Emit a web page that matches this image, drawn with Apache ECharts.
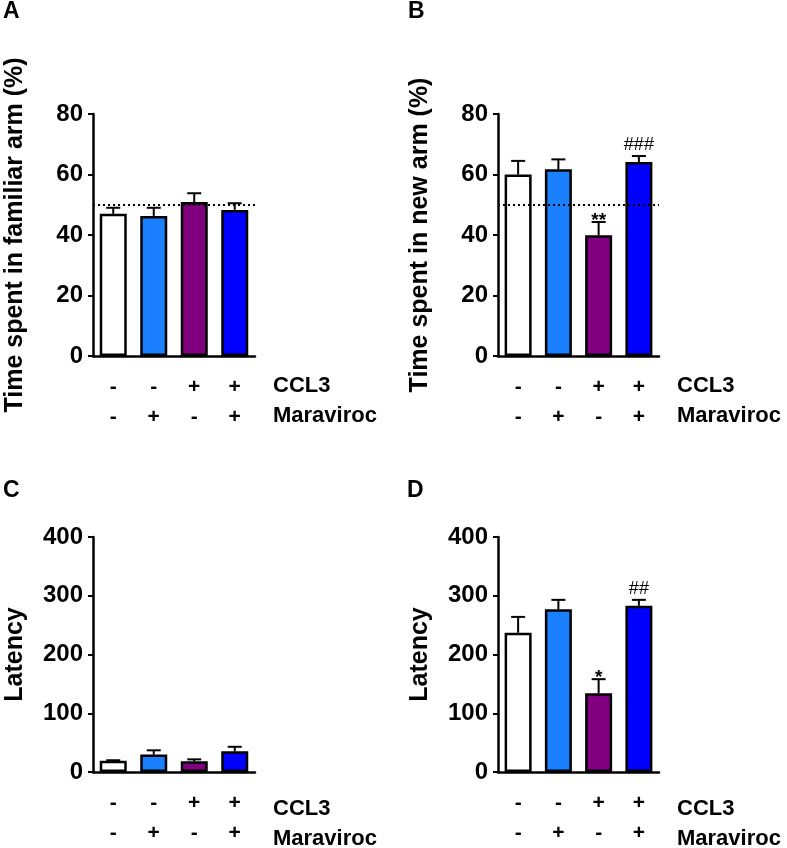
<!DOCTYPE html>
<html>
<head>
<meta charset="utf-8">
<script src="https://cdn.jsdelivr.net/npm/echarts@6/dist/echarts.min.js"></script>
<style>
html,body{margin:0;padding:0;background:#fff;}
#main{width:787px;height:848px;}
</style>
</head>
<body>
<div id="main"></div>
<script>
// ---- data ----
const ccl3 = ['-', '-', '+', '+'];
const maraviroc = ['-', '+', '-', '+'];
const barColors = ['#ffffff', '#1a80ff', '#800080', '#0000ff'];

const familiarMean = [47.0, 46.3, 50.9, 48.3];
const familiarSem  = [2.0, 2.7, 2.9, 2.2];

const newArmMean = [60.0, 61.7, 39.9, 64.1];
const newArmSem  = [4.5, 3.3, 4.4, 2.0];
const newArmMarks = ['', '', '**', '###'];

const latencyCMean = [19, 29.7, 18.2, 35.2];
const latencyCSem  = [1.0, 7.2, 3.3, 7.7];

const latencyDMean = [237, 277, 134, 283];
const latencyDSem  = [27, 16, 24, 10];
const latencyDMarks = ['', '', '*', '##'];

const chanceLevel = 50;

const panelTitles = ['A', 'B', 'C', 'D'];
const yTitles = ['Time spent in familiar arm (%)', 'Time spent in new arm (%)', 'Latency', 'Latency'];
const rowLabels = ['CCL3', 'Maraviroc'];

// ---- layout ----
const FONT = '"Liberation Sans", Arial, sans-serif';
const grids = [
  {left: 93, top: 114, width: 162, height: 242},
  {left: 498, top: 114, width: 161, height: 242},
  {left: 93, top: 537, width: 162, height: 242},
  {left: 498, top: 537, width: 161, height: 242}
];
const yRanges = [[0, 80, 20], [0, 80, 20], [0, 400, 100], [0, 400, 100]];
const panels = [
  {mean: familiarMean, sem: familiarSem, marks: null, chance: true},
  {mean: newArmMean, sem: newArmSem, marks: newArmMarks, chance: true},
  {mean: latencyCMean, sem: latencyCSem, marks: null, chance: false},
  {mean: latencyDMean, sem: latencyDSem, marks: latencyDMarks, chance: false}
];

const cats = ccl3.map((c, i) => i);

const xAxes = grids.map((g, i) => ({
  type: 'category', gridIndex: i, data: cats,
  axisLine: {show: true, lineStyle: {color: '#000', width: 2.5}},
  axisTick: {show: false},
  axisLabel: {
    show: true, margin: 16, interval: 0,
    formatter: (v, idx) => ccl3[idx] + '\n' + maraviroc[idx],
    color: '#000', fontFamily: FONT, fontWeight: 'bold', fontSize: 21, lineHeight: 30
  }
}));

const yAxes = grids.map((g, i) => ({
  type: 'value', gridIndex: i,
  min: yRanges[i][0], max: yRanges[i][1], interval: yRanges[i][2],
  splitLine: {show: false},
  axisLine: {show: true, lineStyle: {color: '#000', width: 2.5}},
  axisTick: {show: true, length: 5, lineStyle: {color: '#000', width: 2}},
  axisLabel: {color: '#000', fontFamily: FONT, fontWeight: 'bold', fontSize: 24, margin: 10},
  name: yTitles[i], nameLocation: 'middle', nameRotate: 90, nameGap: 65,
  nameTextStyle: {color: '#000', fontFamily: FONT, fontWeight: 'bold', fontSize: 25}
}));

const series = [];
panels.forEach((p, i) => {
  const bar = {
    type: 'bar', xAxisIndex: i, yAxisIndex: i, barWidth: 27,
    data: p.mean.map((v, k) => ({value: v, itemStyle: {color: barColors[k]}})),
    itemStyle: {borderColor: '#000', borderWidth: 2.5},
    silent: true, z: 2
  };
  if (p.chance) {
    bar.markLine = {
      symbol: 'none', silent: true, label: {show: false},
      lineStyle: {type: [2, 3], color: '#000', width: 2},
      data: [{yAxis: chanceLevel}]
    };
  }
  series.push(bar);
  series.push({
    type: 'custom', xAxisIndex: i, yAxisIndex: i, z: 3, silent: true,
    data: p.mean.map((v, k) => [k, v, v + p.sem[k]]),
    renderItem: (params, api) => {
      const k = api.value(0);
      const base = api.coord([k, api.value(1)]);
      const top = api.coord([k, api.value(2)]);
      const half = 7;
      const children = [
        {type: 'line', shape: {x1: base[0], y1: base[1], x2: top[0], y2: top[1]}, style: {stroke: '#000', lineWidth: 2}},
        {type: 'line', shape: {x1: top[0] - half, y1: top[1], x2: top[0] + half, y2: top[1]}, style: {stroke: '#000', lineWidth: 2}}
      ];
      if (p.marks && p.marks[k]) {
        const isStar = p.marks[k].indexOf('*') >= 0;
        children.push({type: 'text', style: {
          text: p.marks[k], x: top[0], y: top[1] + (isStar ? 8 : -2),
          textAlign: 'center', textVerticalAlign: 'bottom',
          fill: '#000', font: (isStar ? 'bold 19px ' : '18px ') + FONT
        }});
      }
      return {type: 'group', children};
    }
  });
});

const graphics = [];
const letterPos = [[3, 0], [408, 0], [3, 479], [407, 479]];
panelTitles.forEach((t, i) => {
  graphics.push({type: 'text', left: letterPos[i][0], top: letterPos[i][1],
    style: {text: t, fill: '#000', font: 'bold 23px ' + FONT}});
});
grids.forEach((g, i) => {
  const base = g.top + g.height;
  rowLabels.forEach((r, j) => {
    graphics.push({type: 'text', left: (i % 2 === 0 ? 273 : 677), top: base + 19 + j * 30,
      style: {text: r, fill: '#000', font: 'bold 22px ' + FONT}});
  });
});

const chart = echarts.init(document.getElementById('main'), null, {renderer: 'canvas'});
chart.setOption({
  animation: false,
  backgroundColor: '#fff',
  grid: grids.map(g => Object.assign({containLabel: false}, g)),
  xAxis: xAxes,
  yAxis: yAxes,
  series,
  graphic: graphics
});
</script>
</body>
</html>
